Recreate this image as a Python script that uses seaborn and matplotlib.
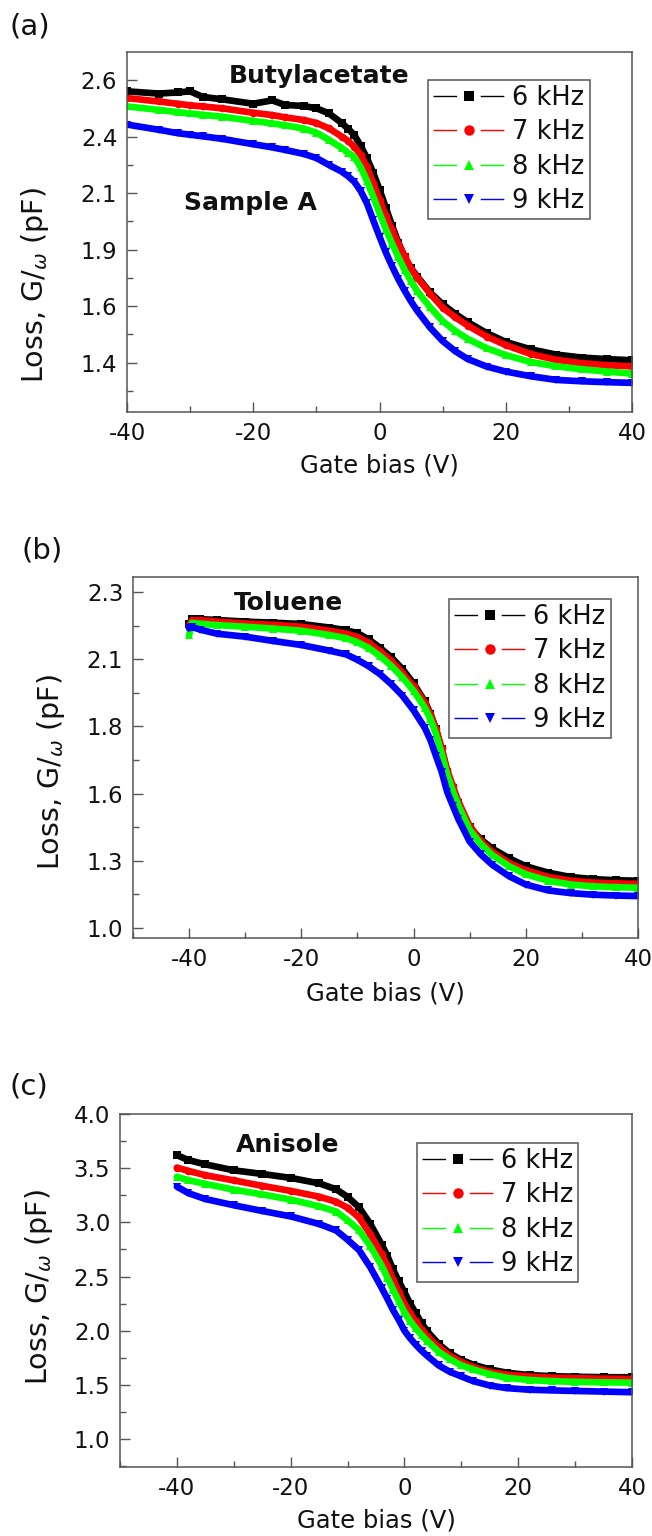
import numpy as np
import pandas as pd
import matplotlib
matplotlib.use("Agg")
import matplotlib.pyplot as plt
from matplotlib.lines import Line2D
from matplotlib.ticker import FixedLocator, MultipleLocator
import seaborn as sns

# ---------------- data ----------------
freqs = ["6 kHz", "7 kHz", "8 kHz", "9 kHz"]

# (a) Butylacetate
xa = [-40, -35, -32, -30, -28, -25, -20, -17, -15, -12, -10, -8, -6, -5, -4, -3, -2, -1,
      0, 1, 2, 3, 4, 5, 6, 8, 10, 12, 14, 17, 20, 24, 28, 32, 36, 40]
a6 = [2.575, 2.565, 2.570, 2.575, 2.550, 2.540, 2.520, 2.535, 2.515, 2.510, 2.500, 2.477,
      2.435, 2.410, 2.382, 2.335, 2.280, 2.215, 2.140, 2.060, 1.980, 1.905, 1.840, 1.792,
      1.755, 1.685, 1.633, 1.590, 1.553, 1.505, 1.466, 1.433, 1.410, 1.397, 1.390, 1.385]
a7 = [2.545, 2.530, 2.520, 2.513, 2.508, 2.500, 2.480, 2.470, 2.460, 2.448, 2.435, 2.411,
      2.375, 2.356, 2.330, 2.295, 2.240, 2.170, 2.095, 2.025, 1.960, 1.898, 1.845, 1.790,
      1.750, 1.680, 1.618, 1.575, 1.538, 1.490, 1.452, 1.412, 1.387, 1.372, 1.363, 1.358]
a8 = [2.508, 2.493, 2.483, 2.477, 2.471, 2.463, 2.444, 2.433, 2.425, 2.410, 2.392, 2.360,
      2.325, 2.304, 2.285, 2.240, 2.180, 2.110, 2.036, 1.966, 1.900, 1.840, 1.784, 1.735,
      1.690, 1.620, 1.558, 1.515, 1.479, 1.438, 1.408, 1.377, 1.358, 1.345, 1.335, 1.326]
a9 = [2.428, 2.405, 2.390, 2.383, 2.376, 2.365, 2.341, 2.327, 2.316, 2.298, 2.280, 2.249,
      2.220, 2.200, 2.175, 2.135, 2.080, 2.005, 1.932, 1.862, 1.800, 1.743, 1.692, 1.645,
      1.603, 1.530, 1.470, 1.425, 1.390, 1.357, 1.335, 1.314, 1.298, 1.292, 1.288, 1.285]

# (b) Toluene
xb = [-40, -39.5, -38, -35, -30, -25, -20, -15, -12, -10, -8, -6, -4, -2, 0, 2, 3, 4, 5, 6,
      7, 8, 10, 12, 14, 17, 20, 24, 28, 32, 36, 40]
b6 = [2.180, 2.200, 2.199, 2.196, 2.190, 2.186, 2.181, 2.168, 2.158, 2.147, 2.124, 2.093,
      2.058, 2.014, 1.960, 1.893, 1.848, 1.790, 1.715, 1.632, 1.570, 1.515, 1.425, 1.380,
      1.346, 1.310, 1.280, 1.256, 1.240, 1.232, 1.228, 1.226]
b7 = [2.175, 2.195, 2.195, 2.190, 2.183, 2.178, 2.171, 2.156, 2.145, 2.133, 2.111, 2.080,
      2.045, 2.000, 1.950, 1.888, 1.845, 1.790, 1.720, 1.638, 1.578, 1.520, 1.430, 1.373,
      1.334, 1.292, 1.265, 1.240, 1.226, 1.219, 1.216, 1.214]
b8 = [2.140, 2.185, 2.182, 2.177, 2.171, 2.164, 2.156, 2.140, 2.128, 2.113, 2.092, 2.062,
      2.026, 1.983, 1.933, 1.870, 1.828, 1.772, 1.700, 1.620, 1.560, 1.505, 1.415, 1.362,
      1.322, 1.280, 1.250, 1.226, 1.212, 1.205, 1.202, 1.200]
b9 = [2.165, 2.170, 2.160, 2.145, 2.134, 2.118, 2.103, 2.082, 2.068, 2.048, 2.024, 1.995,
      1.958, 1.915, 1.860, 1.795, 1.750, 1.690, 1.632, 1.556, 1.505, 1.455, 1.372, 1.324,
      1.286, 1.243, 1.212, 1.190, 1.180, 1.174, 1.171, 1.169]

# (c) Anisole
xc = [-40, -38, -35, -30, -25, -20, -15, -12, -10, -8, -6, -4, -3, -2, -1, 0, 1, 2, 3, 4,
      6, 8, 10, 12, 15, 18, 22, 26, 30, 35, 40]
c6 = [3.620, 3.575, 3.535, 3.480, 3.447, 3.410, 3.360, 3.305, 3.235, 3.140, 2.985, 2.795,
      2.690, 2.565, 2.455, 2.355, 2.250, 2.160, 2.070, 1.995, 1.878, 1.790, 1.730, 1.688,
      1.643, 1.612, 1.590, 1.580, 1.575, 1.571, 1.570]
c7 = [3.505, 3.475, 3.435, 3.387, 3.337, 3.290, 3.237, 3.190, 3.135, 3.045, 2.890, 2.705,
      2.600, 2.472, 2.360, 2.248, 2.160, 2.085, 2.010, 1.952, 1.845, 1.770, 1.710, 1.665,
      1.620, 1.594, 1.576, 1.566, 1.561, 1.557, 1.555]
c8 = [3.420, 3.390, 3.355, 3.302, 3.258, 3.210, 3.148, 3.100, 3.020, 2.930, 2.780, 2.600,
      2.490, 2.380, 2.275, 2.170, 2.090, 2.022, 1.960, 1.906, 1.806, 1.737, 1.680, 1.643,
      1.598, 1.565, 1.544, 1.534, 1.528, 1.523, 1.521]
c9 = [3.330, 3.270, 3.215, 3.158, 3.105, 3.055, 2.985, 2.925, 2.840, 2.745, 2.585, 2.395,
      2.295, 2.190, 2.100, 2.000, 1.930, 1.870, 1.815, 1.768, 1.680, 1.620, 1.578, 1.536,
      1.494, 1.470, 1.455, 1.449, 1.444, 1.438, 1.432]

# tick labels (as printed in the figure)
ya_ticks = [1.375, 1.625, 1.875, 2.125, 2.375, 2.625]
ya_labels = ["1.4", "1.6", "1.9", "2.1", "2.4", "2.6"]
yb_ticks = [1.05, 1.30, 1.55, 1.80, 2.05, 2.30]
yb_labels = ["1.0", "1.3", "1.6", "1.8", "2.1", "2.3"]
yc_ticks = [1.0, 1.5, 2.0, 2.5, 3.0, 3.5, 4.0]
yc_labels = ["1.0", "1.5", "2.0", "2.5", "3.0", "3.5", "4.0"]
x_ticks = [-40, -20, 0, 20, 40]
x_labels = ["-40", "-20", "0", "20", "40"]

titles = ["Butylacetate", "Toluene", "Anisole"]
panel_tags = ["(a)", "(b)", "(c)"]
xlabel = "Gate bias (V)"
ylabel = r"Loss, G/$_{\omega}$ (pF)"

# ---------------- style ----------------
sns.set_style("white")
plt.rcParams["font.family"] = ["DejaVu Sans"]
plt.rcParams["mathtext.fontset"] = "dejavusans"
plt.rcParams["axes.unicode_minus"] = False
plt.rcParams["lines.scale_dashes"] = False

colors = ["#000000", "#ff0000", "#00ff00", "#0000ff"]
markers = ["s", "o", "^", "v"]
FRAME = "#555555"
TXT = "#111111"

W, H = 652, 1536
fig = plt.figure(figsize=(W / 100, H / 100), dpi=100)


def px_axes(l, t, r, b):
    return fig.add_axes([l / W, 1 - b / H, (r - l) / W, (b - t) / H])


axA = px_axes(127, 52, 632, 412)
axB = px_axes(133, 577, 638, 938)
axC = px_axes(120, 1114, 632, 1467)

panels = [
    (axA, xa, [a6, a7, a8, a9], (-40, 40), (1.156, 2.749), ya_ticks, ya_labels, 0.125, 6),
    (axB, xb, [b6, b7, b8, b9], (-50, 40), (1.013, 2.356), yb_ticks, yb_labels, 0.125, 8),
    (axC, xc, [c6, c7, c8, c9], (-50, 40), (0.742, 4.0), yc_ticks, yc_labels, 0.25, 6),
]

for ax, xs, series, xlim, ylim, yt, yl, yminor, lpad in panels:
    df = pd.concat(
        [pd.DataFrame({"V": xs, "G": s, "freq": f}) for f, s in zip(freqs, series)],
        ignore_index=True,
    )
    sns.lineplot(
        data=df, x="V", y="G", hue="freq", style="freq", palette=colors,
        markers=markers, dashes=False, linewidth=4.8, markersize=5.5,
        markeredgewidth=0, legend=False, ax=ax, sort=False,
    )
    ax.set_xlim(*xlim)
    ax.set_ylim(*ylim)
    ax.xaxis.set_major_locator(FixedLocator(x_ticks))
    ax.set_xticklabels(x_labels)
    ax.xaxis.set_minor_locator(MultipleLocator(10))
    ax.yaxis.set_major_locator(FixedLocator(yt))
    ax.set_yticklabels(yl)
    ax.yaxis.set_minor_locator(FixedLocator([v + yminor for v in yt] + [yt[0] - yminor]))
    ax.tick_params(which="both", direction="in", colors=FRAME, labelcolor=TXT,
                   labelsize=16.5, bottom=True, left=True, top=False, right=False)
    ax.tick_params(which="major", length=7, width=1, pad=7)
    ax.tick_params(which="minor", length=4, width=1)
    for sp in ax.spines.values():
        sp.set_color(FRAME)
        sp.set_linewidth(1.1)
    ax.set_xlabel(xlabel, fontsize=17.5, color=TXT, labelpad=lpad)
    ax.set_ylabel(ylabel, fontsize=20.5, color=TXT)

axA.yaxis.set_label_coords(-0.150, 0.353)
axB.yaxis.set_label_coords(-0.131, 0.46)
axC.yaxis.set_label_coords(-0.127, 0.51)

# annotations (baseline-positioned)
ann = dict(ha="center", va="baseline", fontsize=18, fontweight="bold", color=TXT)
axA.text(0.380, 0.914, titles[0], transform=axA.transAxes, **ann)
axA.text(0.245, 0.562, "Sample A", transform=axA.transAxes, **ann)
axB.text(0.307, 0.909, titles[1], transform=axB.transAxes, **ann)
axC.text(0.328, 0.892, titles[2], transform=axC.transAxes, **ann)

# panel tags
fig.text(10 / W, 1 - 27 / H, panel_tags[0], fontsize=21, va="center", ha="left", color=TXT)
fig.text(22 / W, 1 - 550 / H, panel_tags[1], fontsize=21, va="center", ha="left", color=TXT)
fig.text(10 / W, 1 - 1087 / H, panel_tags[2], fontsize=21, va="center", ha="left", color=TXT)

# legends
handles = [
    Line2D([0], [0], color=c, marker=m, markersize=7.5, markeredgewidth=0, lw=1.0,
           linestyle=(0, (17, 17)))
    for c, m in zip(colors, markers)
]
leg_pos = [(axA, 0.596, 0.922), (axB, 0.626, 0.939), (axC, 0.580, 0.918)]
for ax, lx, ly in leg_pos:
    leg = ax.legend(handles, freqs, loc="upper left", bbox_to_anchor=(lx, ly),
                    borderaxespad=0, fontsize=18.5, handlelength=2.76, handletextpad=0.31,
                    labelspacing=0.32, borderpad=0.2, numpoints=1, frameon=True,
                    fancybox=False, shadow=False)
    leg.get_frame().set_edgecolor(FRAME)
    leg.get_frame().set_linewidth(1.1)
    leg.get_frame().set_alpha(1)
    for t in leg.get_texts():
        t.set_color(TXT)

fig.savefig("out.png", dpi=100)
